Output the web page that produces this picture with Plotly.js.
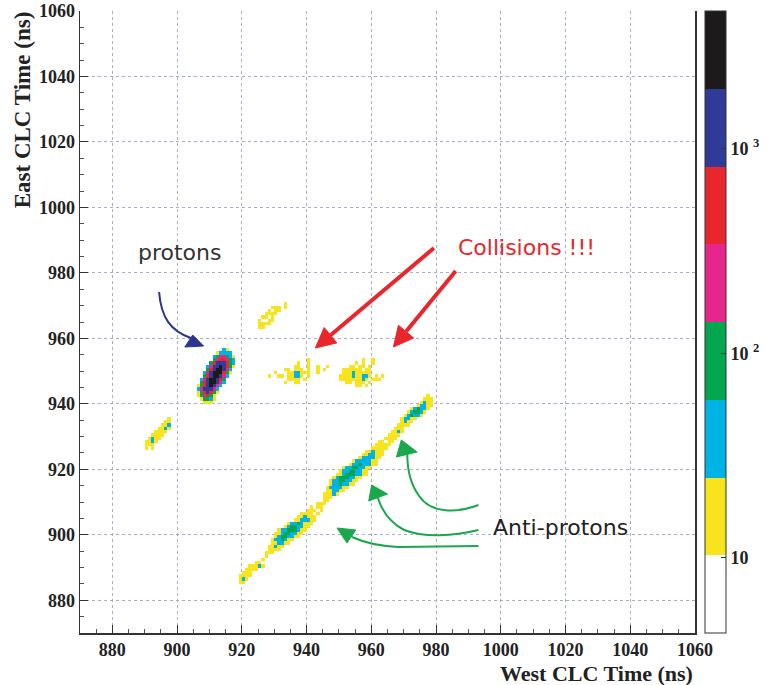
<!DOCTYPE html>
<html><head><meta charset="utf-8">
<script src="https://cdn.plot.ly/plotly-3.0.1.min.js"></script>
<style>body{margin:0;background:#fff}#chart{width:776px;height:685px}</style>
</head><body><div id="chart"></div>
<script>
// ---- Axis / binning (ns) ----
const axisMin = 870, axisMax = 1060, binSize = 1;
const tickLabelsX = ['880','900','920','940','960','980','1000','1020','1040','1060'];
const tickLabelsY = ['880','900','920','940','960','980','1000','1020','1040','1060'];
const colorTickVals = [10, 100, 1000];
const colorTickText = ['<b>10</b>', '<b>10 <sup>2</sup></b>', '<b>10 <sup>3</sup></b>'];
const zLogMin = 0.633, zLogMax = 3.673;

// ---- Histogram cells: [East-time bin low edge, first West-time bin low edge, [counts of consecutive 1-ns cells]] ----
const protonCells = [
  [940, 908, [15,15,15]],
  [941, 907, [15,100,100,40,15]],
  [942, 906, [15,100,230,550,100,15]],
  [943, 906, [15,100,550,1300,550,100,15]],
  [944, 906, [40,230,1300,1300,1300,230,40]],
  [945, 906, [15,100,550,1300,3000,1300,230,40]],
  [946, 907, [100,550,1300,3000,3000,1300,230,40]],
  [947, 907, [40,230,1300,3000,3000,1300,550,100]],
  [948, 908, [100,550,1300,3000,3000,1300,230,40]],
  [949, 908, [40,230,1300,3000,3000,3000,550,100,15]],
  [950, 909, [100,550,1300,3000,3000,1300,230,40]],
  [951, 909, [40,230,1300,1300,3000,1300,550,100,15]],
  [952, 910, [100,550,1300,1300,1300,550,100,40]],
  [953, 911, [100,230,550,550,230,100,40]],
  [954, 911, [40,100,230,230,100,40,15]],
  [955, 912, [15,40,40,40,40]],
  [956, 914, [40,15]]
];
const clusterLeftCells = [
  [926, 890, [15,0,15]],
  [927, 890, [15,15,15]],
  [928, 890, [15,15,40,15]],
  [929, 891, [15,40,15,15]],
  [930, 892, [15,15,15,15]],
  [931, 893, [15,15,15,15]],
  [932, 894, [15,15,40,15]],
  [933, 895, [15,15,40]],
  [934, 896, [15,15]],
  [935, 897, [15]]
];
const clusterTopCells = [
  [963, 925, [15,15]],
  [964, 925, [15,15,15,15]],
  [965, 925, [15,0,0,15,15]],
  [966, 926, [15,15,0,15]],
  [967, 927, [15,15,15,15]],
  [968, 928, [15,0,15,15]],
  [969, 929, [15,15,15,0,15]],
  [970, 933, [15]]
];
const collisionLeftCells = [
  [946, 933, [15,0,0,15,15]],
  [947, 934, [15,15,15,15,0,15]],
  [948, 928, [15,0,0,15,15,0,15,15,40,40,15,0,15]],
  [949, 930, [15,0,0,0,15,15,40,40,15,15,15,0,0,15]],
  [950, 933, [15,15,0,15,15,15,0,15,0,0,15,0,15]],
  [951, 936, [15,15,0,0,15,0,0,15,0,0,15]],
  [952, 937, [15,0,0,15]],
  [953, 940, [15]]
];
const collisionRightCells = [
  [945, 955, [15,15,0,15]],
  [946, 952, [15,15,0,15,15,15,0,15]],
  [947, 950, [15,15,15,15,15,15,15,40,15,0,15,15,15]],
  [948, 950, [15,15,15,15,40,15,15,40,40,15,0,15,0,15]],
  [949, 951, [15,15,15,40,15,15,15,15,15]],
  [950, 951, [15,15,15,15,15,15,0,15,15]],
  [951, 953, [15,15,0,15,15,0,15]],
  [952, 955, [15,0,15,0,0,15]],
  [953, 957, [15,0,0,15]]
];
const antiprotonCells = [
  [885, 919, [15,15]],
  [886, 919, [15,40,15]],
  [887, 919, [15,15,15,15]],
  [888, 920, [15,15,15]],
  [889, 921, [15,15,15,15]],
  [890, 922, [15,15,15,40,15]],
  [891, 924, [15,15]],
  [892, 926, [15]],
  [893, 927, [15]],
  [894, 927, [15,15,15]],
  [895, 928, [15,15,15,15]],
  [896, 928, [15,15,40,15,15]],
  [897, 929, [15,15,40,40,15,15]],
  [898, 929, [15,40,40,100,40,15,15]],
  [899, 930, [15,40,100,100,40,40,15,15]],
  [900, 930, [15,15,40,100,100,40,40,15,15]],
  [901, 931, [15,40,40,100,100,100,40,15,15]],
  [902, 933, [15,40,100,100,40,40,15,15]],
  [903, 934, [15,40,40,100,40,15,15,15]],
  [904, 936, [15,15,40,40,40,15,15]],
  [905, 937, [15,15,40,15,15,15]],
  [906, 938, [15,15,15,15,0,15]],
  [907, 940, [15,15,15,0,15]],
  [908, 941, [15,0,15,15]],
  [909, 943, [15,15,15]],
  [910, 945, [15,15]],
  [911, 945, [15,15,15]],
  [912, 945, [15,15,15,40,15]],
  [913, 946, [15,15,40,40,15,15]],
  [914, 946, [15,40,40,40,40,15,15]],
  [915, 947, [15,40,40,100,40,40,15,15]],
  [916, 947, [15,40,40,100,100,40,40,15,15]],
  [917, 948, [15,40,100,100,100,40,40,15,15]],
  [918, 949, [15,15,40,100,100,100,40,40,15,15]],
  [919, 950, [15,40,40,100,100,40,40,15,15]],
  [920, 951, [15,40,40,100,100,40,40,15,15]],
  [921, 953, [15,40,40,100,40,40,40,15,15]],
  [922, 954, [15,40,40,40,40,40,15,15]],
  [923, 956, [15,40,40,40,40,15,15]],
  [924, 957, [15,15,40,40,15,15,15]],
  [925, 958, [15,15,40,15,15,15]],
  [926, 960, [15,15,15,15,15]],
  [927, 961, [15,15,15,15,15]],
  [928, 962, [15,15,0,15,15]],
  [929, 964, [15,15,15,15]],
  [930, 965, [15,15,15,15]],
  [931, 966, [15,15,40,15]],
  [932, 967, [15,15,15]],
  [933, 968, [15,15,15,15]],
  [934, 969, [15,40,15,15]],
  [935, 969, [15,40,40,15,15]],
  [936, 970, [15,40,100,40,40,15]],
  [937, 971, [15,40,100,100,40,15]],
  [938, 972, [15,40,100,40,40,15]],
  [939, 974, [15,40,40,15,15]],
  [940, 975, [15,40,15,15]],
  [941, 976, [15,15,15]],
  [942, 977, [15]]
];

// ---- Colours (palette bands, low -> high) ----
const bandColors = ['#ffffff','#f8e41c','#00b3e6','#04a650','#e6268c','#e8262b','#2f3b96','#1c1a1b'];

// ---- build matrix ----
const nb = Math.round((axisMax - axisMin) / binSize);
const centers = [];
for (let i = 0; i < nb; i++) centers.push(axisMin + (i + 0.5) * binSize);
const counts = centers.map(() => centers.map(() => 0));
[protonCells, clusterLeftCells, clusterTopCells, collisionLeftCells, collisionRightCells, antiprotonCells]
  .forEach(group => group.forEach(([y, x0, cs]) => {
    const j = Math.round((y - axisMin) / binSize);
    const i0 = Math.round((x0 - axisMin) / binSize);
    cs.forEach((c, k) => { counts[j][i0 + k] += c; });
  }));
const z = counts.map(row => row.map(c => c > 0 ? Math.log10(c) : null));

const colorscale = [];
bandColors.forEach((c, k) => {
  colorscale.push([k / bandColors.length, c]);
  colorscale.push([(k + 1) / bandColors.length, c]);
});

const trace = {
  type: 'heatmap', x: centers, y: centers, z: z,
  zmin: zLogMin, zmax: zLogMax, colorscale: colorscale, zsmooth: false,
  hoverinfo: 'skip',
  colorbar: {
    x: 1.016, xanchor: 'left', y: 0.5, yanchor: 'middle',
    len: 1, lenmode: 'fraction', thickness: 21, thicknessmode: 'pixels',
    outlinewidth: 1, outlinecolor: '#333', xpad: 0, ypad: 0,
    tickvals: colorTickVals.map(v => Math.log10(v)), ticktext: colorTickText,
    ticks: 'inside', ticklen: 5, tickcolor: '#333',
    tickfont: {family: 'Liberation Serif', size: 18, color: '#222'}
  }
};

// ---- pixel helpers for annotation geometry ----
const L = 80, B = 633, S = 622 / (axisMax - axisMin);
const X = px => axisMin + (px - L) / S;
const Y = py => axisMin + (B - py) / S;
const P = (px, py) => X(px) + ',' + Y(py);
function tri(tip, base1, base2) { return 'M' + P(...tip) + ' L' + P(...base1) + ' L' + P(...base2) + ' Z'; }
function headTri(tail, tip, len, hw) {
  const vx = tip[0] - tail[0], vy = tip[1] - tail[1], n = Math.hypot(vx, vy);
  const ux = vx / n, uy = vy / n, bx = tip[0] - len * ux, by = tip[1] - len * uy;
  return {path: tri(tip, [bx - hw * uy, by + hw * ux], [bx + hw * uy, by - hw * ux]), base: [bx, by]};
}

const shapes = [];
// blue arrow (protons)
shapes.push({type: 'path', xref: 'x', yref: 'y', layer: 'above',
  path: 'M' + P(160, 292) + ' C' + P(162, 318) + ' ' + P(172, 331) + ' ' + P(192, 338),
  line: {color: '#2a3590', width: 2}});
shapes.push({type: 'path', xref: 'x', yref: 'y', layer: 'above',
  path: tri([194, 335], [186, 347], [205, 346]), fillcolor: '#2a3590', line: {color: '#2a3590', width: 1}});
// red arrows (collisions)
[[[438, 248], [318, 348]], [[460, 271], [397, 347]]].forEach(([tail, tip]) => {
  const h = headTri(tail, tip, 20, 10);
  shapes.push({type: 'line', xref: 'x', yref: 'y', layer: 'above',
    x0: X(tail[0]), y0: Y(tail[1]), x1: X(h.base[0]), y1: Y(h.base[1]),
    line: {color: '#e8262b', width: 4}});
  shapes.push({type: 'path', xref: 'x', yref: 'y', layer: 'above', path: h.path,
    fillcolor: '#e8262b', line: {color: '#e8262b', width: 1}});
});
// green arrows (anti-protons)
const green = '#1aa84a';
const greenCurves = [
  'M' + P(483, 505) + ' C' + P(462, 513) + ' ' + P(435, 514) + ' ' + P(423, 496) + ' C' + P(414, 484) + ' ' + P(411, 468) + ' ' + P(411, 454),
  'M' + P(483, 530) + ' C' + P(458, 536) + ' ' + P(428, 538) + ' ' + P(408, 530) + ' C' + P(394, 523) + ' ' + P(385, 510) + ' ' + P(381, 497),
  'M' + P(483, 546) + ' L' + P(402, 547) + ' C' + P(382, 546) + ' ' + P(366, 542) + ' ' + P(355, 537)
];
greenCurves.forEach(p => shapes.push({type: 'path', xref: 'x', yref: 'y', layer: 'above', path: p,
  line: {color: green, width: 2}}));
[tri([405, 440], [400, 457], [421, 452]),
 tri([375, 485], [372, 501], [391, 494]),
 tri([340, 528], [350, 543], [359, 530])].forEach(p => shapes.push({type: 'path', xref: 'x', yref: 'y',
  layer: 'above', path: p, fillcolor: green, line: {color: green, width: 1}}));

const annFont = {family: 'DejaVu Sans', size: 22};
const annotations = [
  {text: 'protons', x: X(181), y: Y(252), xref: 'x', yref: 'y', showarrow: false,
   font: Object.assign({}, annFont, {color: '#333'})},
  {text: 'Collisions !!!', x: X(532), y: Y(247), xref: 'x', yref: 'y', showarrow: false,
   font: Object.assign({}, annFont, {color: '#e8262b'})},
  {text: 'Anti-protons', x: X(566), y: Y(527), xref: 'x', yref: 'y', showarrow: false,
   font: Object.assign({}, annFont, {color: '#222'})},
  {text: '<b>West CLC Time (ns)</b>', x: 1.0, xref: 'paper', xanchor: 'right', y: (B - 674) / 622, yref: 'paper',
   yanchor: 'middle', showarrow: false,
   font: {family: 'Liberation Serif', size: 22, color: '#222'}},
  {text: '<b>East CLC Time (ns)</b>', textangle: -90, x: (22 - L) / 622, xref: 'paper', xanchor: 'center',
   y: 1.003, yref: 'paper', yanchor: 'top', showarrow: false,
   font: {family: 'Liberation Serif', size: 23, color: '#222'}}
];

function axis(labels) {
  return {
    range: [axisMin, axisMax], tickmode: 'array', tickvals: labels.map(Number),
    ticktext: labels.map(t => '<b>' + t + '</b>'),
    ticks: 'inside', ticklen: 8, tickwidth: 1, tickcolor: '#333',
    showline: true, linecolor: '#333', linewidth: 1.5,
    showgrid: true, gridcolor: '#a7aecb', griddash: 'dot', gridwidth: 1, zeroline: false,
    minor: {dtick: 5, tick0: 880, ticks: 'inside', ticklen: 4, tickcolor: '#555', showgrid: false},
    tickfont: {family: 'Liberation Serif', size: 18, color: '#222'},
    fixedrange: true
  };
}
const xaxis = Object.assign(axis(tickLabelsX), {ticklabelstandoff: 0});
const yaxis = Object.assign(axis(tickLabelsY), {mirror: true});

Plotly.newPlot('chart', [trace], {
  width: 776, height: 685,
  margin: {l: 80, r: 74, t: 11, b: 52},
  paper_bgcolor: '#fff', plot_bgcolor: '#fff',
  xaxis: xaxis, yaxis: yaxis, shapes: shapes, annotations: annotations, showlegend: false
}, {staticPlot: true});
</script></body></html>
